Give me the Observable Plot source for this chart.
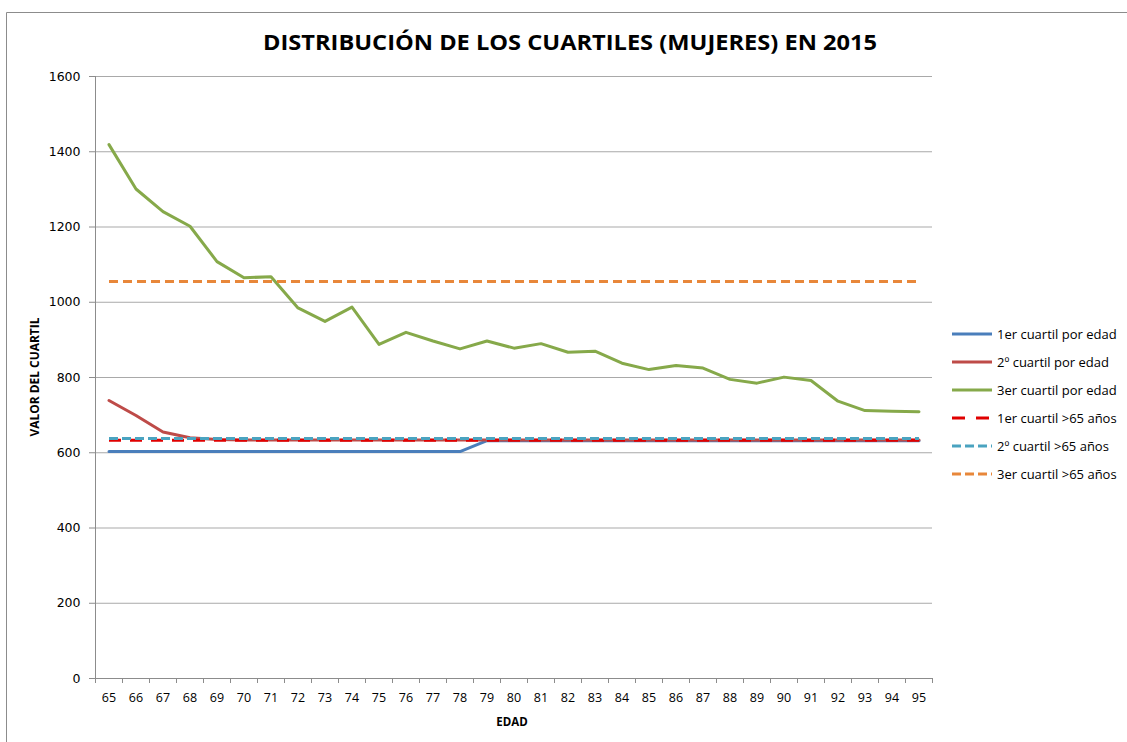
<!DOCTYPE html>
<html>
<head>
<meta charset="utf-8">
<script src="https://cdn.jsdelivr.net/npm/d3@7"></script>
<script src="https://cdn.jsdelivr.net/npm/@observablehq/plot@0.6"></script>
<style>
  html, body { margin: 0; padding: 0; background: #fff; }
  #wrap { position: relative; width: 1127px; height: 742px; overflow: hidden; }
  #chart, #over { position: absolute; left: 0; top: 0; }
  #over { pointer-events: none; }
</style>
</head>
<body>
<div id="wrap">
  <div id="chart"></div>
  <svg id="over" width="1127" height="742"></svg>
</div>
<script>
const ages = [65,66,67,68,69,70,71,72,73,74,75,76,77,78,79,80,81,82,83,84,85,86,87,88,89,90,91,92,93,94,95];
const q1Edad = [603,603,603,603,603,603,603,603,603,603,603,603,603,603,632,632,632,632,632,632,632,632,632,632,632,632,632,632,632,632,632];
const q2Edad = [739,699,655,640,635,634,634,634,634,634,634,634,634,634,634,634,634,634,634,634,634,634,634,634,634,634,634,634,634,634,634];
const q3Edad = [1419,1301,1241,1202,1108,1065,1068,985,949,987,888,920,897,876,897,878,890,867,870,838,821,832,825,795,785,801,792,737,712,710,709];
const q1Mas65 = 633;
const q2Mas65 = 638;
const q3Mas65 = 1055;
const yTicks = [0,200,400,600,800,1000,1200,1400,1600];
const seriesNames = ["1er cuartil por edad","2º cuartil por edad","3er cuartil por edad","1er cuartil >65 años","2º cuartil >65 años","3er cuartil >65 años"];
const colors = ["#4A7EBB","#BE4B48","#86A94A","#E00000","#4AA3C0","#E8873A"];
const dashes = [null,null,null,"12,9","9,4","9,5"];
const legendDashes = [null,null,null,"13,11","9,4","9,4"];

const seriesValues = [
  q1Edad, q2Edad, q3Edad,
  ages.map(() => q1Mas65), ages.map(() => q2Mas65), ages.map(() => q3Mas65)
];
const rows = seriesValues.map((vals, i) => ages.map((a, j) => ({age: a, value: vals[j], series: seriesNames[i]})));

const W = 1127, H = 742;
const plotLeft = 95, plotRight = 932, plotTop = 76, plotBottom = 678;

const marks = [
  Plot.gridY(yTicks.filter(d => d > 0), {stroke: "#a9a9a9", strokeOpacity: 1, strokeWidth: 1}),
  Plot.ruleX([ages[0] - 0.5], {stroke: "#8c8c8c", strokeWidth: 1}),
  Plot.ruleY([0], {stroke: "#8c8c8c", strokeWidth: 1}),
  Plot.axisY(yTicks, {tickSize: 6, tickPadding: 9, stroke: "#8c8c8c", label: null, tickFormat: d => String(d)}),
  Plot.axisX(d3.range(ages[0] - 0.5, ages[ages.length - 1] + 1, 1), {tickSize: 5, tickFormat: () => "", stroke: "#8c8c8c", label: null}),
  Plot.axisX(ages, {tickSize: 0, tickPadding: 15, label: null, tickFormat: d => String(d)})
];
rows.forEach((r, i) => {
  marks.push(Plot.line(r, {x: "age", y: "value", stroke: colors[i], strokeWidth: 3, strokeDasharray: dashes[i] || undefined, strokeLinejoin: "round", strokeLinecap: dashes[i] ? "butt" : "round"}));
});

const chart = Plot.plot({
  width: W, height: H,
  marginLeft: plotLeft, marginRight: W - plotRight, marginTop: plotTop, marginBottom: H - plotBottom,
  x: {type: "linear", domain: [ages[0] - 0.5, ages[ages.length - 1] + 0.5]},
  y: {domain: [0, 1600]},
  style: {fontSize: "12.5px", fontFamily: "'Open Sans', sans-serif", color: "#000"},
  marks
});
document.getElementById("chart").appendChild(chart);
// y tick labels in a wider face, like the reference
const yLabelSet = new Set(yTicks.map(String));
chart.querySelectorAll("text").forEach(t => {
  t.style.fontSize = "12.5px";
  t.style.fill = "#000";
  if (yLabelSet.has(t.textContent.trim()) && !ages.map(String).includes(t.textContent.trim())) {
    t.style.fontFamily = "'DejaVu Sans', sans-serif";
  } else {
    t.style.fontFamily = "'Open Sans', sans-serif";
  }
});

// Overlay: border, title, axis titles, legend
const over = d3.select("#over");
over.append("path").attr("d", `M6.5,${H} V12.5 H${W}`).attr("fill", "none").attr("stroke", "#8c8c8c").attr("stroke-width", 1);
over.append("text").attr("x", 570).attr("y", 50).attr("text-anchor", "middle")
  .attr("font-family", "'Open Sans', sans-serif").attr("font-weight", "bold").attr("font-size", 22)
  .attr("textLength", 614).attr("lengthAdjust", "spacingAndGlyphs")
  .text("DISTRIBUCIÓN DE LOS CUARTILES (MUJERES) EN 2015");
over.append("text").attr("transform", "translate(39,377) rotate(-90)").attr("text-anchor", "middle")
  .attr("font-family", "'Open Sans', sans-serif").attr("font-weight", "bold").attr("font-size", 11.5)
  .attr("textLength", 119).attr("lengthAdjust", "spacingAndGlyphs")
  .text("VALOR DEL CUARTIL");
over.append("text").attr("x", 512).attr("y", 726).attr("text-anchor", "middle")
  .attr("font-family", "'Open Sans', sans-serif").attr("font-weight", "bold").attr("font-size", 11.5)
  .text("EDAD");
seriesNames.forEach((name, i) => {
  const y = 334 + i * 28;
  over.append("line").attr("x1", 952).attr("x2", 992).attr("y1", y).attr("y2", y)
    .attr("stroke", colors[i]).attr("stroke-width", 3)
    .attr("stroke-dasharray", legendDashes[i]);
  over.append("text").attr("x", 997).attr("y", y).attr("dy", "0.35em")
    .attr("font-family", "'Open Sans', sans-serif").attr("font-size", 13)
    .text(name);
});
</script>
</body>
</html>
